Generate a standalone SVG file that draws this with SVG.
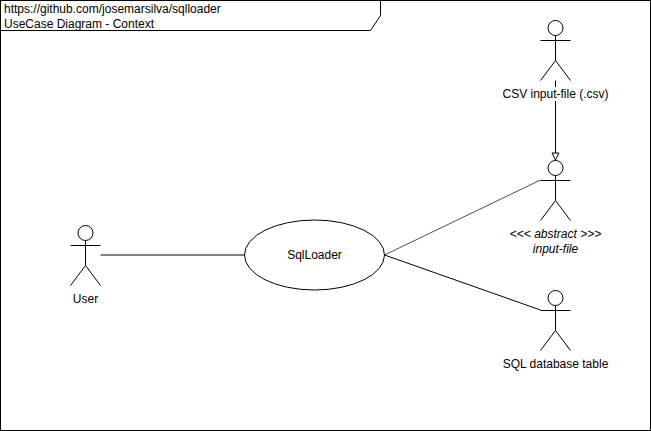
<svg xmlns="http://www.w3.org/2000/svg" width="651" height="431" viewBox="0 0 651 431">
<style>
.s{fill:none;stroke:#000;stroke-width:1}
.h{fill:#fff;stroke:#000;stroke-width:1}
text{font-family:"Liberation Sans",Arial,Helvetica,sans-serif;font-size:12px;fill:#000}
.c{text-anchor:middle}
.i{font-style:italic}
</style>
<defs>
<g id="actor">
<circle class="h" cx="15" cy="7.5" r="7.5"/>
<path class="s" d="M15 15V40M0 20H30M15 40L0 60M15 40L30 60"/>
</g>
</defs>
<rect width="651" height="431" fill="#fff"/>
<g id="frame">
<rect class="s" x="0.5" y="0.5" width="650" height="430"/>
<path class="s" d="M0.5 30.5H370.5L380.5 15.5V0.5"/>
<text x="4" y="13">https://github.com/josemarsilva/sqlloader</text>
<text x="4" y="28">UseCase Diagram - Context</text>
</g>
<g id="connectors">
<path class="s" d="M100.5 255H244.5"/>
<path fill="none" stroke="#4d4d4d" d="M384.5 255L540.5 180"/>
<path class="s" d="M384.5 255L540.5 310"/>
<path class="s" d="M555.5 80.5V153"/>
<path class="h" d="M555.5 160L552 153H559Z"/>
</g>
<g id="usecase-sqlloader">
<ellipse class="h" cx="314.5" cy="255" rx="70" ry="35"/>
<text class="c" x="314.5" y="259">SqlLoader</text>
</g>
<g id="actor-user">
<use href="#actor" x="70.5" y="225.5"/>
<text class="c" x="85.5" y="303">User</text>
</g>
<g id="actor-csv">
<use href="#actor" x="540.5" y="20.5"/>
<rect x="500" y="87" width="111" height="14" fill="#fff"/>
<text class="c" x="555.5" y="98">CSV input-file (.csv)</text>
</g>
<g id="actor-abstract">
<use href="#actor" x="540.5" y="160.5"/>
<text class="c i" x="555.5" y="238">&lt;&lt;&lt; abstract &gt;&gt;&gt;</text>
<text class="c i" x="555.5" y="253">input-file</text>
</g>
<g id="actor-sql">
<use href="#actor" x="540.5" y="290.5"/>
<text class="c" x="555.5" y="368">SQL database table</text>
</g>
</svg>
